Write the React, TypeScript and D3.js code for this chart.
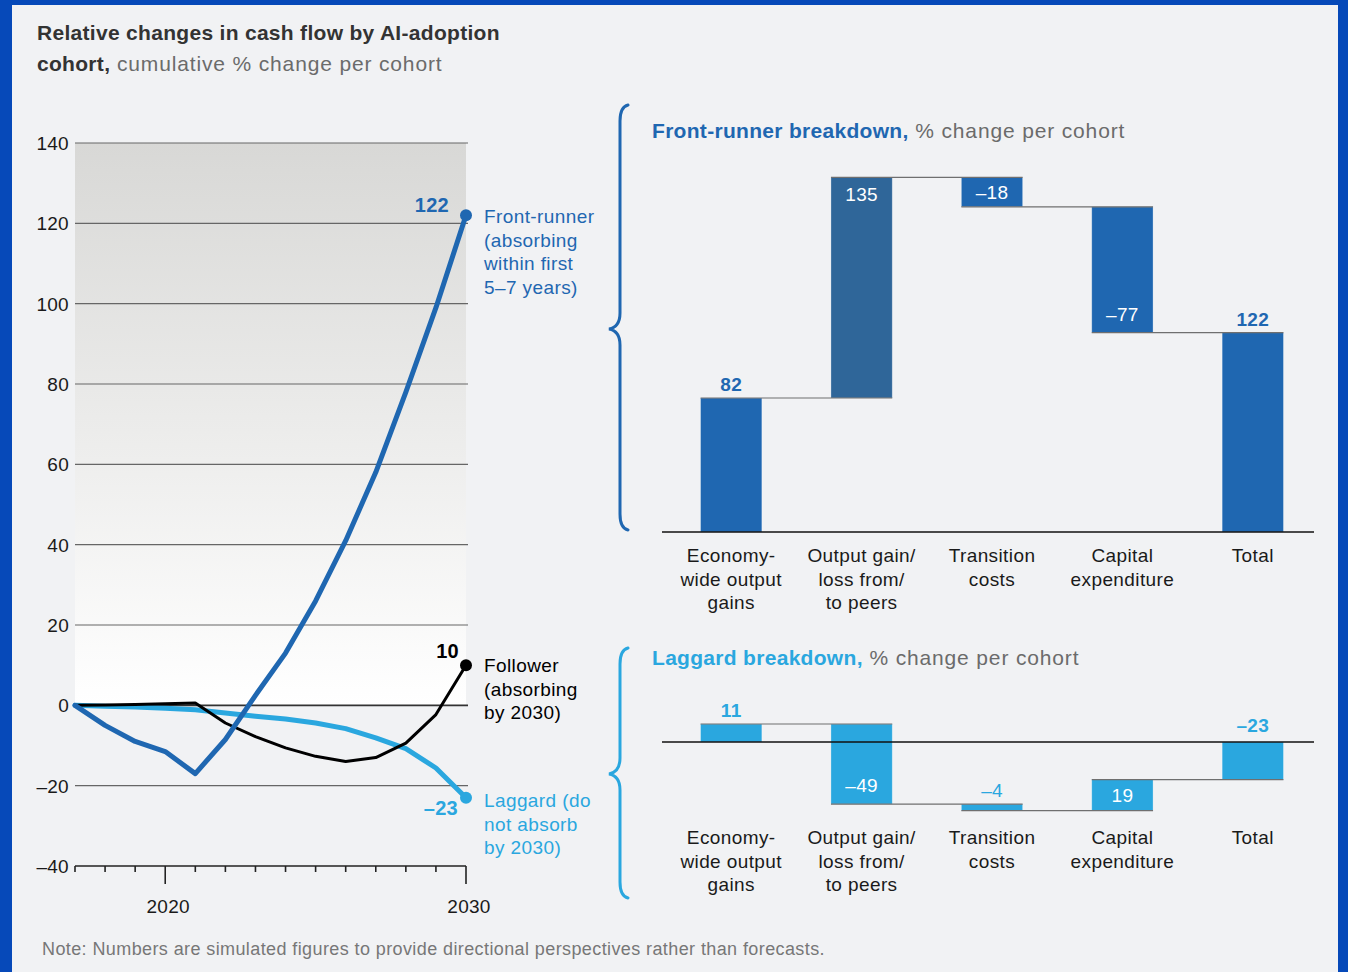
import React from "react";
import * as d3 from "d3";

const years = [2017, 2018, 2019, 2020, 2021, 2022, 2023, 2024, 2025, 2026, 2027, 2028, 2029, 2030];
const frontRunner = [0, -5, -9, -11.5, -17, -8.5, 2.5, 13, 26, 41, 58, 78, 99, 122];
const follower = [0, 0.1, 0.2, 0.4, 0.6, -4.4, -7.8, -10.6, -12.7, -14, -13, -9.4, -2.3, 10];
const laggard = [0, -0.2, -0.4, -0.7, -1.1, -1.9, -2.7, -3.4, -4.4, -5.8, -8.1, -10.8, -15.6, -23];
const yTicks = [140, 120, 100, 80, 60, 40, 20, 0, -20, -40];
const xMajorTicks = [2020, 2030];

const categories = ["Economy-\nwide output\ngains", "Output gain/\nloss from/\nto peers", "Transition\ncosts", "Capital\nexpenditure", "Total"];
const frontSteps = [82, 135, -18, -77];
const frontTotal = 122;
const laggardSteps = [11, -49, -4, 19];
const laggardTotal = -23;

const FONT = "'Liberation Sans', Arial, Helvetica, sans-serif";
const DARK = "#1f67b1";
const DARK2 = "#2f6699";
const LIGHT = "#2aa7df";
const BG = "#f1f2f4";
const LS = 0.4;

const fmt = (v: number) => (v < 0 ? "\u2013" + Math.abs(v) : String(v));

type Bar = { key: string; y0: number; y1: number; value: number; total: boolean };

function buildBars(steps: number[], total: number): Bar[] {
  let cum = 0;
  const bars: Bar[] = steps.map((v, i) => {
    const b = { key: categories[i], y0: cum, y1: cum + v, value: v, total: false };
    cum += v;
    return b;
  });
  bars.push({ key: categories[4], y0: 0, y1: total, value: total, total: true });
  return bars;
}

function Waterfall(props: {
  bars: Bar[];
  zeroY: number;
  color: string;
  altColor: string;
  labelPlacement: string[];
  labelBold: boolean[];
  catY: number;
}) {
  const { bars, zeroY, color, altColor, labelPlacement, labelBold, catY } = props;
  const x = d3.scaleBand<string>().domain(categories).range([666, 1318]).paddingInner(0.53).paddingOuter(0.265);
  const y = d3.scaleLinear().domain([0, 217]).range([zeroY, zeroY - 354.6]);
  const bw = x.bandwidth();
  return (
    <g>
      {bars.map((b, i) => {
        const x0 = x(b.key)!;
        const top = y(Math.max(b.y0, b.y1));
        const bot = y(Math.min(b.y0, b.y1));
        return (
          <rect key={"r" + i} x={x0} y={top} width={bw} height={bot - top}
            fill={i === 1 && altColor ? altColor : color} stroke="#ffffff" strokeOpacity={0.35} strokeWidth={0.8} />
        );
      })}
      {bars.slice(0, -1).map((b, i) => {
        const x0 = x(b.key)!;
        const x1 = x(bars[i + 1].key)! + bw;
        return <line key={"c" + i} x1={x0} x2={x1} y1={y(b.y1)} y2={y(b.y1)} stroke="#6f6f6f" strokeWidth={1.2} />;
      })}
      <line x1={662} x2={1314} y1={zeroY} y2={zeroY} stroke="#111" strokeWidth={1.6} />
      {bars.map((b, i) => {
        const cx = x(b.key)! + bw / 2;
        const top = y(Math.max(b.y0, b.y1));
        const bot = y(Math.min(b.y0, b.y1));
        const p = labelPlacement[i];
        let ly = 0;
        let fill = "#ffffff";
        if (p === "above") { ly = top - 7; fill = color; }
        else if (p === "aboveZero") { ly = zeroY - 10; fill = color; }
        else if (p === "insideTop") { ly = top + 24; }
        else if (p === "insideBottom") { ly = bot - 12; }
        else { ly = (top + bot) / 2 + 7; }
        return (
          <text key={"l" + i} x={cx} y={ly} textAnchor="middle" fill={fill} letterSpacing={0.3}
            fontWeight={labelBold[i] ? 700 : 400} fontSize={19} fontFamily={FONT}>{fmt(b.value)}</text>
        );
      })}
      {categories.map((c, i) => (
        <text key={"k" + i} x={x(c)! + bw / 2} textAnchor="middle" fontSize={19} fill="#1a1a1a" fontFamily={FONT} letterSpacing={LS}>
          {c.split("\n").map((line, j) => (
            <tspan key={j} x={x(c)! + bw / 2} y={catY + j * 23.7}>{line}</tspan>
          ))}
        </text>
      ))}
    </g>
  );
}

function Brace(props: { top: number; bottom: number; tip: number; x: number; color: string }) {
  const { top, bottom, tip, x, color } = props;
  const r = 10;
  const path = d3.path();
  path.moveTo(x + 8, top);
  path.quadraticCurveTo(x, top + 2, x, top + r + 6);
  path.lineTo(x, tip - r - 6);
  path.quadraticCurveTo(x, tip - 2, x - 11, tip);
  path.quadraticCurveTo(x, tip + 2, x, tip + r + 6);
  path.lineTo(x, bottom - r - 6);
  path.quadraticCurveTo(x, bottom - 2, x + 8, bottom);
  return <path d={path.toString()} fill="none" stroke={color} strokeWidth={3} strokeLinecap="round" />;
}

export default function App() {
  const x = d3.scaleLinear().domain([2017, 2030]).range([75, 466]);
  const y = d3.scaleLinear().domain([-40, 140]).range([866, 143]);
  const line = d3.line<number>().x((_, i) => x(years[i])).y((d) => y(d));
  const frontBars = buildBars(frontSteps, frontTotal);
  const lagBars = buildBars(laggardSteps, laggardTotal);
  const last = years.length - 1;

  return (
    <svg width={1348} height={972} style={{ position: "absolute", left: 0, top: 0 }} fontFamily={FONT}>
      <defs>
        <linearGradient id="plotbg" x1="0" y1="0" x2="0" y2="1">
          <stop offset="0" stopColor="#d8d8d6" />
          <stop offset="1" stopColor="#ffffff" />
        </linearGradient>
      </defs>
      <rect x={0} y={0} width={1348} height={972} fill="#0649b9" />
      <rect x={12} y={5} width={1326} height={967} fill={BG} />

      <text x={37} y={40} fontSize={21} fontWeight={700} fill="#333" letterSpacing={0.3}>Relative changes in cash flow by AI-adoption</text>
      <text x={37} y={71} fontSize={21} fill="#6b6b6b">
        <tspan fontWeight={700} fill="#333" letterSpacing={0.3}>cohort,</tspan>
        <tspan letterSpacing={0.85}> cumulative % change per cohort</tspan>
      </text>

      {/* left line chart */}
      <rect x={x(2017)} y={y(140)} width={x(2030) - x(2017)} height={y(0) - y(140)} fill="url(#plotbg)" />
      {yTicks.filter((t) => t > -40).map((t) => (
        <line key={t} x1={x(2017)} x2={x(2030) + 2} y1={y(t)} y2={y(t)} stroke={t === 0 ? "#333" : "#666"} strokeWidth={t === 0 ? 1.6 : 1.1} />
      ))}
      {yTicks.map((t) => (
        <text key={"yt" + t} x={69} y={y(t) + 7} textAnchor="end" fontSize={19} fill="#1a1a1a" letterSpacing={0.3}>{fmt(t)}</text>
      ))}
      <line x1={x(2017)} x2={x(2030)} y1={y(-40)} y2={y(-40)} stroke="#222" strokeWidth={1.3} />
      {years.map((yr) => {
        const len = xMajorTicks.includes(yr) ? 18 : 6;
        return <line key={"xt" + yr} x1={x(yr)} x2={x(yr)} y1={y(-40)} y2={y(-40) + len} stroke="#222" strokeWidth={1.6} />;
      })}
      {xMajorTicks.map((yr) => (
        <text key={"xl" + yr} x={x(yr) + 3} y={913} textAnchor="middle" fontSize={19} fill="#1a1a1a" letterSpacing={0.3}>{yr}</text>
      ))}

      <path d={line(laggard)!} fill="none" stroke={LIGHT} strokeWidth={5} strokeLinecap="round" strokeLinejoin="round" />
      <path d={line(follower)!} fill="none" stroke="#000" strokeWidth={3} strokeLinecap="round" strokeLinejoin="round" />
      <path d={line(frontRunner)!} fill="none" stroke={DARK} strokeWidth={5} strokeLinecap="round" strokeLinejoin="round" />
      <circle cx={x(2030)} cy={y(frontRunner[last])} r={6} fill={DARK} />
      <circle cx={x(2030)} cy={y(follower[last])} r={6} fill="#000" />
      <circle cx={x(2030)} cy={y(laggard[last])} r={6} fill={LIGHT} />

      <text x={449} y={212} textAnchor="end" fontSize={20} fontWeight={600} fill={DARK} letterSpacing={0.3}>{fmt(frontRunner[last])}</text>
      <text x={459} y={658} textAnchor="end" fontSize={20} fontWeight={700} fill="#000" letterSpacing={0.3}>{fmt(follower[last])}</text>
      <text x={458} y={815} textAnchor="end" fontSize={20} fontWeight={600} fill={LIGHT} letterSpacing={0.3}>{fmt(laggard[last])}</text>

      <text fontSize={19} fill={DARK} letterSpacing={LS}>
        {["Front-runner", "(absorbing", "within first", "5\u20137 years)"].map((s, i) => (
          <tspan key={i} x={484} y={223 + i * 23.7}>{s}</tspan>
        ))}
      </text>
      <text fontSize={19} fill="#000" letterSpacing={LS}>
        {["Follower", "(absorbing", "by 2030)"].map((s, i) => (
          <tspan key={i} x={484} y={672 + i * 23.7}>{s}</tspan>
        ))}
      </text>
      <text fontSize={19} fill={LIGHT} letterSpacing={LS}>
        {["Laggard (do", "not absorb", "by 2030)"].map((s, i) => (
          <tspan key={i} x={484} y={807 + i * 23.7}>{s}</tspan>
        ))}
      </text>

      {/* braces */}
      <Brace top={105} bottom={530} tip={329} x={620} color={DARK} />
      <Brace top={648} bottom={898} tip={774} x={620} color={LIGHT} />

      {/* right top */}
      <text x={652} y={138} fontSize={21} fill="#6b6b6b">
        <tspan fontWeight={700} fill={DARK} letterSpacing={0.3}>Front-runner breakdown,</tspan>
        <tspan letterSpacing={0.85}> % change per cohort</tspan>
      </text>
      <Waterfall bars={frontBars} zeroY={532} color={DARK} altColor={DARK2}
        labelPlacement={["above", "insideTop", "middle", "insideBottom", "above"]}
        labelBold={[true, false, false, false, true]} catY={562} />

      <text x={652} y={665} fontSize={21} fill="#6b6b6b">
        <tspan fontWeight={700} fill={LIGHT} letterSpacing={0.3}>Laggard breakdown,</tspan>
        <tspan letterSpacing={0.85}> % change per cohort</tspan>
      </text>
      <Waterfall bars={lagBars} zeroY={742} color={LIGHT} altColor={""}
        labelPlacement={["above", "insideBottom", "above", "middle", "aboveZero"]}
        labelBold={[true, false, false, false, true]} catY={844} />

      <text x={42} y={955} fontSize={18} fill="#777" letterSpacing={0.4}>Note: Numbers are simulated figures to provide directional perspectives rather than forecasts.</text>
    </svg>
  );
}
